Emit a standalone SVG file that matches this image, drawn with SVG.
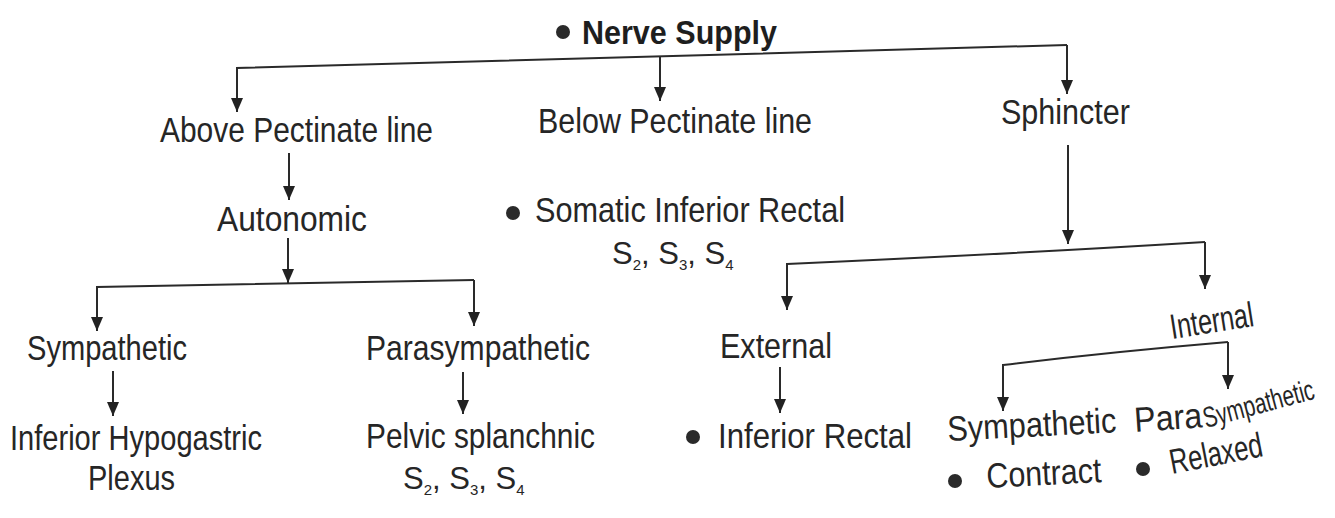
<svg xmlns="http://www.w3.org/2000/svg" width="1335" height="518" viewBox="0 0 1335 518">
<style>
  text { font-family: "Liberation Sans", Arial, sans-serif; font-size: 35px; fill: #262626; }
  .title { font-weight: bold; font-size: 33px; fill: #1e1e1e; }
  .seg { font-size: 31px; }
  .sub { font-size: 15px; }
  .small { font-size: 29px; }
  .conn path { fill: none; stroke: #2a2a2a; stroke-width: 2; }
  .dot { fill: #2a2a2a; }
</style>
<defs>
  <marker id="arr" viewBox="0 0 14 12" refX="14" refY="6" markerWidth="14" markerHeight="12" markerUnits="userSpaceOnUse" orient="auto">
    <path d="M0,0 L14,6 L0,12 z" fill="#222"/>
  </marker>
</defs>
<rect width="1335" height="518" fill="#ffffff"/>

<g class="conn" id="connectors">
  <path d="M1067,45 L237,68 L237,112" marker-end="url(#arr)"/>
  <path d="M1067,45 L1067,94" marker-end="url(#arr)"/>
  <path d="M660,57 L660,101" marker-end="url(#arr)"/>
  <path d="M289,153 L289,200" marker-end="url(#arr)"/>
  <path d="M288,238 L288,283" marker-end="url(#arr)"/>
  <path d="M474,280 L97,287 L97,331" marker-end="url(#arr)"/>
  <path d="M474,280 L474,326" marker-end="url(#arr)"/>
  <path d="M113,371 L113,416" marker-end="url(#arr)"/>
  <path d="M463,372 L463,414" marker-end="url(#arr)"/>
  <path d="M1068,145 L1068,244" marker-end="url(#arr)"/>
  <path d="M1205,242 Q1010,254 787,264 L787,310" marker-end="url(#arr)"/>
  <path d="M1205,242 L1205,289" marker-end="url(#arr)"/>
  <path d="M780,367 L780,413" marker-end="url(#arr)"/>
  <path d="M1228,342 Q1110,352 1003,365 L1003,411" marker-end="url(#arr)"/>
  <path d="M1228,342 L1228,389" marker-end="url(#arr)"/>
</g>

<g id="n-nerve-supply">
  <circle class="dot" cx="563" cy="32" r="7"/>
  <text class="title" x="582" y="44" textLength="195" lengthAdjust="spacingAndGlyphs">Nerve Supply</text>
</g>
<g id="n-above">
  <text x="160" y="142" textLength="273" lengthAdjust="spacingAndGlyphs">Above Pectinate line</text>
</g>
<g id="n-below">
  <text x="538" y="133" textLength="274" lengthAdjust="spacingAndGlyphs">Below Pectinate line</text>
</g>
<g id="n-sphincter">
  <text x="1001" y="124" textLength="129" lengthAdjust="spacingAndGlyphs">Sphincter</text>
</g>
<g id="n-autonomic">
  <text x="217" y="231" textLength="150" lengthAdjust="spacingAndGlyphs">Autonomic</text>
</g>
<g id="n-somatic">
  <circle class="dot" cx="513" cy="213" r="7"/>
  <text x="535" y="222" textLength="310" lengthAdjust="spacingAndGlyphs">Somatic Inferior Rectal</text>
  <text class="seg" x="612" y="264">S<tspan class="sub" dy="6">2</tspan><tspan dy="-6">, S</tspan><tspan class="sub" dy="6">3</tspan><tspan dy="-6">, S</tspan><tspan class="sub" dy="6">4</tspan></text>
</g>
<g id="n-sympathetic-l">
  <text x="27" y="360" textLength="160" lengthAdjust="spacingAndGlyphs">Sympathetic</text>
</g>
<g id="n-parasympathetic">
  <text x="366" y="360" textLength="224" lengthAdjust="spacingAndGlyphs">Parasympathetic</text>
</g>
<g id="n-inferior-hypogastric">
  <text x="10" y="450" textLength="252" lengthAdjust="spacingAndGlyphs">Inferior Hypogastric</text>
  <text x="88" y="490" textLength="87" lengthAdjust="spacingAndGlyphs">Plexus</text>
</g>
<g id="n-pelvic">
  <text x="366" y="448" textLength="229" lengthAdjust="spacingAndGlyphs">Pelvic splanchnic</text>
  <text class="seg" x="403" y="489">S<tspan class="sub" dy="6">2</tspan><tspan dy="-6">,  S</tspan><tspan class="sub" dy="6">3</tspan><tspan dy="-6">, S</tspan><tspan class="sub" dy="6">4</tspan></text>
</g>
<g id="n-external">
  <text x="720" y="358" textLength="112" lengthAdjust="spacingAndGlyphs">External</text>
</g>
<g id="n-inferior-rectal">
  <circle class="dot" cx="693" cy="437" r="7"/>
  <text x="718" y="448" textLength="194" lengthAdjust="spacingAndGlyphs">Inferior Rectal</text>
</g>
<g id="n-internal">
  <text x="1172" y="339" textLength="84" lengthAdjust="spacingAndGlyphs" transform="rotate(-9 1172 339)">Internal</text>
</g>
<g id="n-sympathetic-r">
  <text x="948" y="441" textLength="169" lengthAdjust="spacingAndGlyphs" transform="rotate(-3 948 441)">Sympathetic</text>
  <circle class="dot" cx="955" cy="481" r="7"/>
  <text x="987" y="488" textLength="115" lengthAdjust="spacingAndGlyphs" transform="rotate(-3 987 488)">Contract</text>
</g>
<g id="n-parasympathetic-r">
  <text x="1135" y="432" textLength="68" lengthAdjust="spacingAndGlyphs" transform="rotate(-4 1135 432)">Para</text>
  <text class="small" x="1206" y="428" textLength="114" lengthAdjust="spacingAndGlyphs" transform="rotate(-15 1206 428)">Sympathetic</text>
  <circle class="dot" cx="1143" cy="469" r="7"/>
  <text x="1172" y="474" textLength="94" lengthAdjust="spacingAndGlyphs" transform="rotate(-11 1172 474)">Relaxed</text>
</g>
</svg>
